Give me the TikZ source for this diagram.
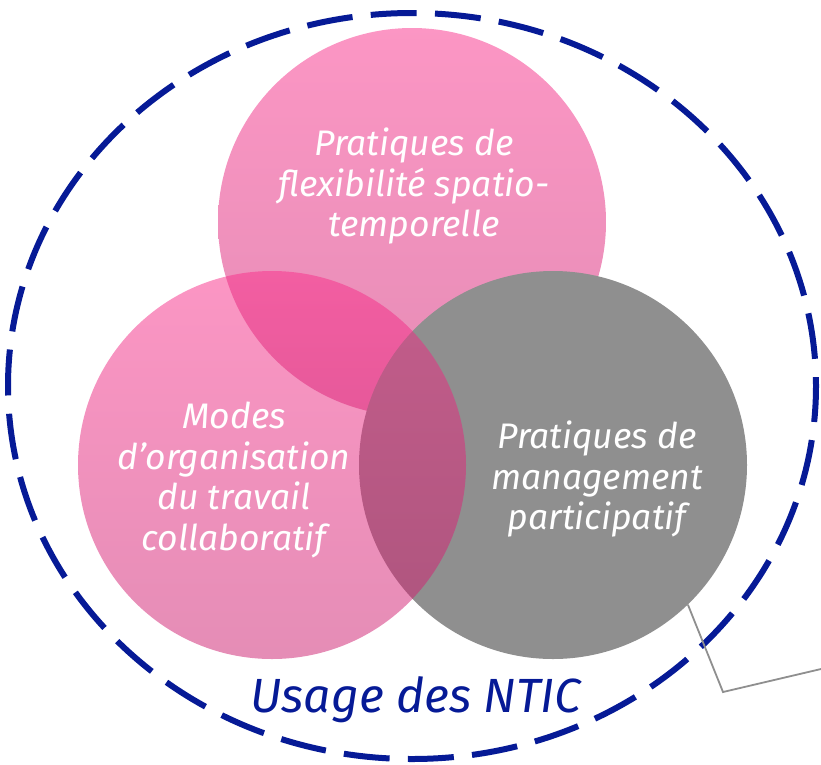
\documentclass[tikz,border=0pt]{standalone}
\usepackage{fontspec}
\setmainfont{Fira Sans}
\definecolor{pkA}{RGB}{249,45,137}
\definecolor{pkB}{RGB}{203,27,109}
\definecolor{grayc}{RGB}{143,143,143}
\definecolor{navy}{RGB}{6,26,150}
\begin{document}
\begin{tikzpicture}[x=1pt,y=-1pt,
  pinkc/.style={circle,minimum size=388pt,inner sep=0pt,top color=pkA,bottom color=pkB,opacity=0.5},
  greyc/.style={circle,minimum size=388pt,inner sep=0pt,fill=grayc},
  lbl/.style={text=white,align=center,inner sep=0pt,font=\fontsize{35.5}{40.5}\selectfont\itshape},
  conn/.style={draw=grayc,line width=1.8pt}]
\useasboundingbox (0,0) rectangle (821,764);
\node[pinkc] (top) at (412,222) {};
\node[greyc] (right) at (553,465) {};
\node[pinkc] (left) at (272,465) {};
\draw[navy,line width=6pt,dash pattern=on 46pt off 18.3pt,dash phase=10pt] (412,386) ellipse [x radius=404,y radius=373];
\node[lbl] (ttop) at (414,186) {Pratiques de\\flexibilité spatio-\\temporelle};
\node[lbl] (tleft) at (234,480) {Modes\\d’organisation\\du travail\\collaboratif};
\node[lbl] (tright) at (597,479) {Pratiques de\\management\\participatif};
\node[text=navy,inner sep=0pt,font=\fontsize{48}{54}\selectfont\itshape] (usage) at (416,700) {Usage des NTIC};
\coordinate (c1) at (723,692);
\coordinate (c2) at (821,669);
\draw[conn] (right.-46.7) -- (c1) -- (c2);
\end{tikzpicture}
\end{document}
